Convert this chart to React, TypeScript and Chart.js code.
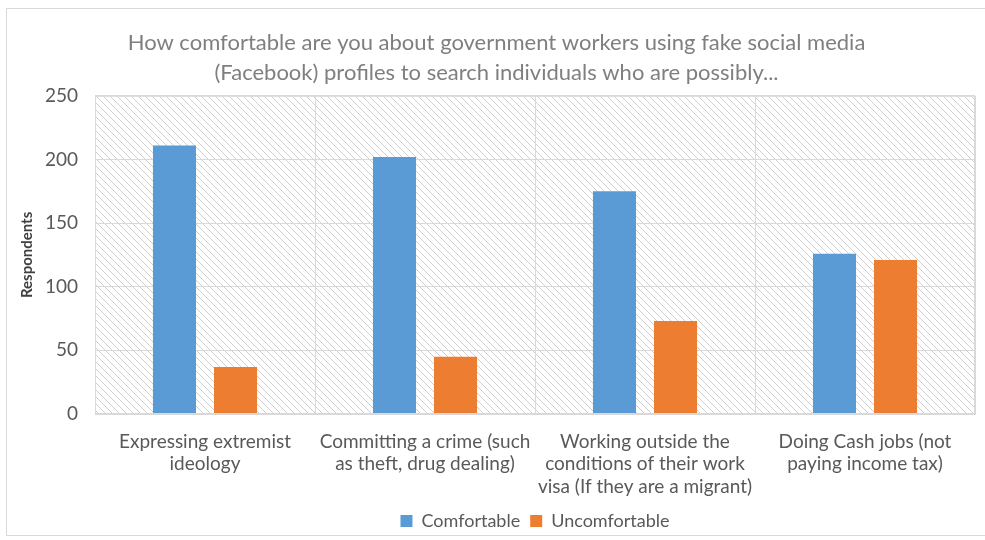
import React, { useEffect, useRef } from "react";
import { Chart, registerables } from "chart.js";

Chart.register(...registerables);

const categories: string[][] = [
  ["Expressing extremist", "ideology"],
  ["Committing a crime (such", "as theft, drug dealing)"],
  ["Working outside the", "conditions of their work", "visa (If they are a migrant)"],
  ["Doing Cash jobs (not", "paying income tax)"],
];
const comfortable: number[] = [211, 202, 175, 126];
const uncomfortable: number[] = [37, 45, 73, 121];
const titleLines: string[] = [
  "How comfortable are you about government workers using fake social media",
  "(Facebook) profiles to search individuals who are possibly...",
];
const yTitle = "Respondents";

const FONT = "Lato, 'Noto Sans', sans-serif";

function makePattern(): CanvasPattern | string {
  const c = document.createElement("canvas");
  const s = 7;
  c.width = s;
  c.height = s;
  const g = c.getContext("2d");
  if (!g) return "#fff";
  g.fillStyle = "#ffffff";
  g.fillRect(0, 0, s, s);
  g.strokeStyle = "#cfcfcf";
  g.lineWidth = 1;
  g.beginPath();
  g.moveTo(-1, -1);
  g.lineTo(s + 1, s + 1);
  g.moveTo(-1, s - 1);
  g.lineTo(1, s + 1);
  g.moveTo(s - 1, -1);
  g.lineTo(s + 1, 1);
  g.stroke();
  const p = g.createPattern(c, "repeat");
  return p || "#fff";
}

const bgPlugin = {
  id: "hatchBg",
  beforeDraw(chart: any) {
    const { ctx, chartArea } = chart;
    if (!chartArea) return;
    ctx.save();
    ctx.fillStyle = makePattern();
    ctx.fillRect(chartArea.left, chartArea.top, chartArea.right - chartArea.left, chartArea.bottom - chartArea.top);
    ctx.restore();
  },
  afterDatasetsDraw(chart: any) {
    const { ctx, chartArea } = chart;
    ctx.save();
    ctx.strokeStyle = "#d9d9d9";
    ctx.lineWidth = 1;
    ctx.strokeRect(chartArea.left + 0.5, chartArea.top + 0.5, chartArea.right - chartArea.left - 1, chartArea.bottom - chartArea.top - 1);
    ctx.restore();
  },
};

export default function App() {
  const ref = useRef<HTMLCanvasElement>(null);
  useEffect(() => {
    if (!ref.current) return;
    const chart = new Chart(ref.current, {
      type: "bar",
      data: {
        labels: categories,
        datasets: [
          { label: "Comfortable", data: comfortable, backgroundColor: "#5B9BD5" },
          { label: "Uncomfortable", data: uncomfortable, backgroundColor: "#ED7D31" },
        ],
      },
      options: {
        animation: false,
        responsive: false,
        maintainAspectRatio: false,
        layout: { padding: { left: 18, right: 10, top: 28, bottom: 0 } },
        datasets: {
          bar: { categoryPercentage: 0.555, barPercentage: 0.705 },
        },
        scales: {
          x: {
            grid: { color: "#d9d9d9", offset: true, drawTicks: false },
            border: { color: "#d9d9d9" },
            ticks: { color: "#595959", font: { family: FONT, size: 19, lineHeight: 1.2 }, padding: 16, maxRotation: 0, autoSkip: false },
            afterFit(scale: any) {
              scale.height = 88;
            },
          },
          y: {
            min: 0,
            max: 250,
            grid: { color: "#d9d9d9", drawTicks: false },
            border: { color: "#d9d9d9" },
            ticks: { stepSize: 50, color: "#595959", font: { family: FONT, size: 19 }, padding: 17 },
            title: { display: true, text: yTitle, color: "#404040", font: { family: FONT, size: 15, weight: "bold" }, padding: { top: 0, bottom: 10 } },
            afterFit(scale: any) {
              scale.width = 77;
            },
          },
        },
        plugins: {
          legend: {
            position: "bottom",
            fullSize: false,
            labels: { boxWidth: 12, boxHeight: 12, color: "#595959", font: { family: FONT, size: 18 }, padding: 10 },
          },
          title: {
            display: true,
            text: titleLines,
            color: "#7f7f7f",
            font: { family: FONT, size: 22, weight: "normal", lineHeight: 1.36 },
            padding: { top: 0, bottom: 8 },
          },
          tooltip: { enabled: false },
        },
      },
      plugins: [bgPlugin],
    } as any);
    return () => chart.destroy();
  }, []);
  return (
    <div style={{ position: "fixed", left: 0, top: 0, width: 985, height: 540, background: "#fff" }}>
      <div style={{ position: "absolute", left: 6, top: 8, width: 985, height: 528, border: "1px solid #d9d9d9", boxSizing: "border-box" }} />
      <canvas ref={ref} width={985} height={540} style={{ position: "absolute", left: 0, top: 0 }} />
    </div>
  );
}
